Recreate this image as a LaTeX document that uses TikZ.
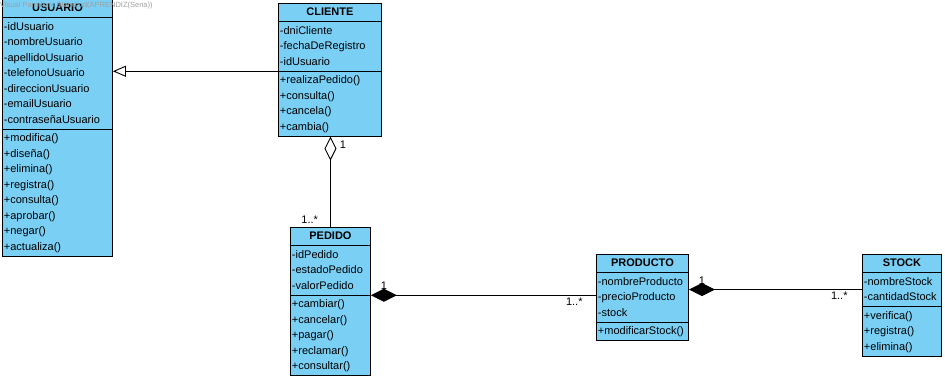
\documentclass[tikz,border=0pt]{standalone}
\usepackage{fontspec}
\setmainfont{Liberation Sans}
\usetikzlibrary{arrows.meta,positioning,shapes.multipart}
\definecolor{vpazul}{RGB}{122,207,245}
\definecolor{vpgris}{RGB}{160,160,160}

\tikzset{
  clase/.style={rectangle split, rectangle split parts=3,
    rectangle split part align={center,left,left},
    draw=black, line width=0.9pt, fill=vpazul, anchor=north west,
    inner xsep=1.5pt, inner ysep=1pt,
    font=\fontsize{11}{15.5}\selectfont},
  hereda/.style={-{Triangle[open,length=13pt,width=11pt]}, line width=0.9pt},
  agrega/.style={-{Diamond[open,length=24pt,width=12pt]}, line width=0.9pt},
  compone/.style={-{Diamond[length=26pt,width=13pt]}, line width=0.9pt},
  mult/.style={font=\fontsize{11}{13}\selectfont, inner sep=1pt}
}
% one compartment of a class, one member per row
\newcommand{\lista}[1]{\begin{tabular}{@{}l@{}}#1\end{tabular}}

\begin{document}
\begin{tikzpicture}[x=1pt, y=-1pt]
  \useasboundingbox (0,0) rectangle (945,378);

  % classes
  \node[clase, minimum width=110pt] (usuario) at (2,-1)
    {\textbf{USUARIO}\strut
     \nodepart{two}\lista{-idUsuario\\ -nombreUsuario\\ -apellidoUsuario\\
       -telefonoUsuario\\ -direccionUsuario\\ -emailUsuario\\ -contraseñaUsuario}
     \nodepart{three}\lista{+modifica()\\ +diseña()\\ +elimina()\\ +registra()\\
       +consulta()\\ +aprobar()\\ +negar()\\ +actualiza()}};
  \node[clase, minimum width=103pt] (cliente) at (278,3)
    {\textbf{CLIENTE}\strut
     \nodepart{two}\lista{-dniCliente\\ -fechaDeRegistro\\ -idUsuario}
     \nodepart{three}\lista{+realizaPedido()\\ +consulta()\\ +cancela()\\ +cambia()}};
  \node[clase, minimum width=80pt] (pedido) at (290,227)
    {\textbf{PEDIDO}\strut
     \nodepart{two}\lista{-idPedido\\ -estadoPedido\\ -valorPedido}
     \nodepart{three}\lista{+cambiar()\\ +cancelar()\\ +pagar()\\ +reclamar()\\ +consultar()}};
  \node[clase, minimum width=92pt] (producto) at (596,254)
    {\textbf{PRODUCTO}\strut
     \nodepart{two}\lista{-nombreProducto\\ -precioProducto\\ -stock}
     \nodepart{three}\lista{+modificarStock()}};
  \node[clase, minimum width=79pt] (stock) at (862,254)
    {\textbf{STOCK}\strut
     \nodepart{two}\lista{-nombreStock\\ -cantidadStock}
     \nodepart{three}\lista{+verifica()\\ +registra()\\ +elimina()}};

  % relations
  \draw[hereda] (cliente.two split west) -- (cliente.two split west -| usuario.east);
  \draw[agrega] (pedido.north) -- (pedido.north |- cliente.south)
    node[mult, pos=0, anchor=south east, xshift=-11pt, yshift=2pt] (m1) {1..*}
    node[mult, pos=1, anchor=north west, xshift=8pt, yshift=-3pt] (m2) {1};
  \draw[compone] (producto.west |- pedido.two split east) -- (pedido.two split east)
    node[mult, pos=0, anchor=north east, xshift=-12pt, yshift=-1pt] (m3) {1..*}
    node[mult, pos=1, anchor=south, xshift=13pt, yshift=4pt] (m4) {1};
  \coordinate (pstock) at ([yshift=8pt]producto.east);
  \draw[compone] (pstock -| stock.west) -- (pstock)
    node[mult, pos=0, anchor=north east, xshift=-13pt, yshift=-1pt] (m5) {1..*}
    node[mult, pos=1, anchor=south, xshift=13pt, yshift=4pt] (m6) {1};

  \node[anchor=west, text=vpgris, font=\fontsize{7.5}{9}\selectfont, inner sep=0pt]
    (marca) at (0,6) {Visual Paradigm Standard(APRENDIZ(Sena))};
\end{tikzpicture}
\end{document}
